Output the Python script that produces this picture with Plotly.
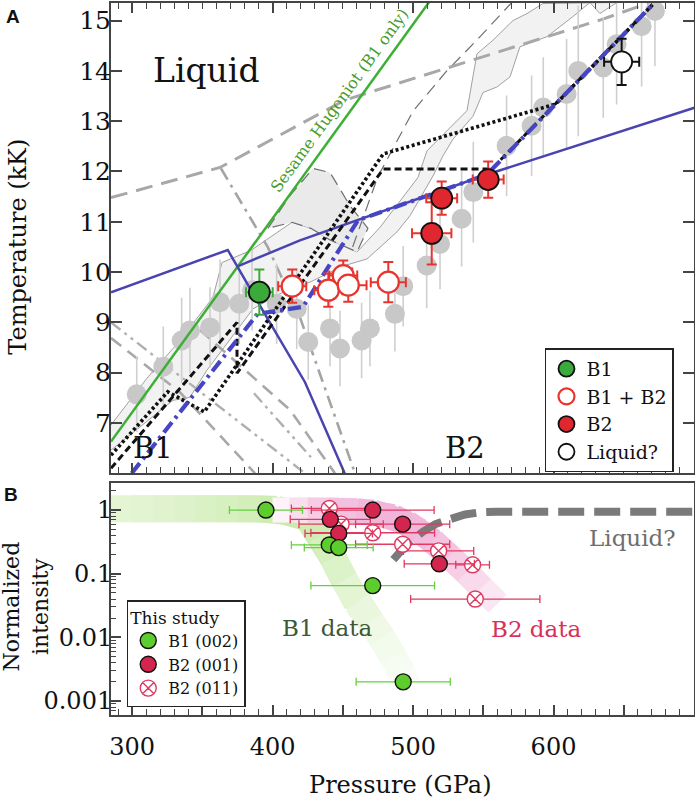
import plotly.graph_objects as go

# ================= Panel A data =================
# grey literature points (pressure GPa, temperature kK, +/- error kK)
lit_p = [303.3, 322.2, 335.3, 341.2, 355.5, 362.6, 376.3, 385.4, 402.9, 417.2,
         425.4, 440.9, 448.0, 463.4, 469.3, 487.1, 493.0, 509.7, 519.2, 534.6,
         542.9, 566.6, 584.4, 592.7, 609.3, 617.6, 635.4, 644.9, 662.7, 672.2]
lit_t = [7.57, 8.12, 8.64, 8.84, 8.90, 9.40, 9.37, 9.64, 9.37, 9.27,
         8.61, 8.88, 8.48, 8.64, 8.88, 9.17, 9.72, 10.13, 10.56, 11.06,
         11.59, 12.51, 12.91, 13.27, 13.54, 14.00, 14.07, 14.53, 14.89, 15.19]
lit_err = [0.75, 0.8, 0.85, 0.85, 0.8, 0.85, 0.8, 0.8, 0.8, 0.8,
           0.75, 0.75, 0.75, 0.75, 0.75, 0.75, 0.8, 0.85, 0.9, 0.95,
           1.0, 1.0, 1.0, 1.0, 1.1, 1.3, 1.0, 1.2, 1.2, 1.1]

# this study
b1_p, b1_t, b1_dp, b1_dt = [390.6], [9.60], [9.5], [0.45]
mix_p = [414.0, 439.7, 450.3, 453.9, 482.4]
mix_t = [9.72, 9.64, 9.93, 9.74, 9.80]
mix_dp = [10, 10, 10, 13, 12.5]
mix_dt = [0.33, 0.33, 0.30, 0.33, 0.40]
b2_p = [513.3, 520.4, 553.5]
b2_t = [10.77, 11.47, 11.84]
b2_dp = [14, 11, 11]
b2_dt = [0.62, 0.33, 0.36]
liq_p, liq_t, liq_dp, liq_dt = [648.5], [14.18], [12.5], [0.46]

# model curves
sesame_p = [285, 512]
sesame_t = [6.63, 15.39]
b1_bound_p = [285, 368.1, 393.0, 423.1, 451.5]
b1_bound_t = [9.60, 10.44, 9.24, 7.81, 5.99]
b2_melt_p = [375.5, 419.5, 552.6, 700.6]
b2_melt_t = [10.12, 10.63, 11.94, 13.27]
hug_p = [299.7, 389.4, 421.7, 460.8, 552.6, 671.0]
hug_t = [6.0, 9.17, 9.31, 11.03, 11.94, 15.33]
dot_p = [285, 325.4, 351.4, 478.8, 601.5, 671.0]
dot_t = [6.36, 7.62, 7.22, 12.35, 13.34, 15.33]
dash_p = [285, 374.7, 374.7, 478.8, 556.0, 671.0]
dash_t = [6.10, 9.0, 7.99, 12.05, 12.05, 15.33]

# grey literature curves
gdash_p = [285, 362.6, 451.5, 635.2, 668.6]
gdash_t = [11.48, 12.08, 13.42, 15.03, 15.36]
gdd_p = [363.3, 396.7, 419.5, 458.7]
gdd_t = [12.06, 10.49, 9.10, 6.0]
ga_p, ga_t = [285, 423.1], [9.0, 6.0]
gb_p, gb_t = [285, 334.1, 387.5], [8.69, 7.61, 6.0]
gc_p, gc_t = [348.3, 412.4, 444.4], [8.85, 7.26, 6.0]
gd_p, gd_t = [386.8, 427.3], [7.59, 6.32]
thin_p = [457, 475, 500, 524, 545, 570]
thin_t = [10.5, 11.9, 13.2, 14.0, 14.6, 15.35]

# grey shaded band (upper-left edge, then lower-right edge)
band_up_p = [285.0, 310.6, 334.1, 357.6, 364.0, 384.6, 413.8, 427.3, 440.9, 460.1,
             476.5, 503.5, 509.9, 524.1, 538.4, 545.5, 556.9, 571.1, 581.1, 592.5]
band_up_t = [6.96, 7.89, 8.64, 9.50, 10.19, 10.43, 10.99, 10.87, 10.64, 10.40,
             10.89, 11.88, 12.41, 12.81, 13.21, 14.34, 14.61, 15.00, 15.14, 15.34]
band_lo_p = [645.1, 633.0, 625.9, 613.8, 595.3, 576.1, 569.0, 559.7, 549.8, 542.7,
             528.4, 521.3, 514.2, 497.8, 488.6, 467.2, 450.1, 426.6, 405.3, 386.1,
             371.8, 353.3, 341.2, 329.1, 305.6, 285.0]
band_lo_t = [15.36, 15.14, 15.36, 15.08, 14.68, 14.48, 13.88, 13.68, 13.57, 13.10,
             12.64, 12.31, 11.91, 11.12, 10.80, 10.26, 10.12, 9.80, 9.57, 9.27,
             8.73, 8.05, 7.51, 7.45, 6.92, 6.46]
wedge_p = [396.7, 412.4, 428.8, 440.9, 455.1, 467.9, 460.1, 440.9, 427.3, 413.8, 396.7]
wedge_t = [10.87, 11.52, 12.06, 11.98, 11.32, 10.87, 10.40, 10.64, 10.87, 10.99, 10.87]

# ================= Panel B data =================
g_p = [395.3, 440.4, 447.1, 471.3, 493.0]
g_i = [1.0, 0.283, 0.257, 0.065, 0.002]
g_dp = [26, 27, 24.5, 44, 33.5]
r_p = [471.3, 441.1, 492.6, 447.1, 518.7]
r_i = [1.0, 0.715, 0.60, 0.43, 0.143]
r_dp = [43.7, 28.5, 33.5, 24, 25]
x_p = [440.4, 448.8, 471.3, 492.6, 518.2, 542.4, 544.3]
x_i = [1.06, 0.60, 0.44, 0.29, 0.228, 0.138, 0.04]
x_dp = [27, 30, 44, 33.5, 25, 12, 46]

liqc_p = [486, 495, 507, 516, 526, 537, 548, 560, 700]
liqc_i = [0.166, 0.282, 0.457, 0.603, 0.715, 0.851, 0.923, 0.944, 0.944]

gband_p = [285, 300, 315, 330, 345, 360, 375, 390, 403, 415, 425, 435, 443, 451, 460, 470, 478, 486, 492, 496]
gband_i = [1.05, 1.05, 1.05, 1.05, 1.05, 1.05, 1.05, 1.05, 1.03, 0.93, 0.76, 0.40, 0.178, 0.079, 0.035, 0.0178, 0.010, 0.005, 0.0028, 0.0018]
gband_s = [0.26, 0.28, 0.30, 0.32, 0.35, 0.38, 0.42, 0.46, 0.5, 0.5, 0.46, 0.4, 0.33, 0.26, 0.2, 0.15, 0.11, 0.08, 0.05, 0.03]
pband_p = [400, 412, 425, 440, 460, 472, 486, 496, 505, 514, 526, 538, 549, 560]
pband_i = [1.0, 1.0, 1.0, 1.0, 0.98, 0.93, 0.79, 0.63, 0.47, 0.33, 0.19, 0.105, 0.060, 0.034]
pband_s = [0.08, 0.22, 0.34, 0.42, 0.47, 0.5, 0.5, 0.48, 0.45, 0.4, 0.33, 0.25, 0.16, 0.08]

SERIF = "DejaVu Serif"
fig = go.Figure()


def line(x, y, color, width, dash="solid", xa="x", ya="y"):
    fig.add_trace(go.Scatter(x=x, y=y, mode="lines", xaxis=xa, yaxis=ya,
                             line=dict(color=color, width=width, dash=dash),
                             showlegend=False, hoverinfo="skip"))


def blend(base, s):
    return "rgb(%d,%d,%d)" % tuple(round(255 * (1 - s) + c * s) for c in base)


# ---------- Panel A ----------
fig.add_trace(go.Scatter(x=band_up_p + band_lo_p, y=band_up_t + band_lo_t, mode="lines",
                         fill="toself", fillcolor="#f2f2f2",
                         line=dict(color="#a0a0a0", width=1), showlegend=False, hoverinfo="skip"))
fig.add_trace(go.Scatter(x=wedge_p, y=wedge_t, mode="lines", fill="toself", fillcolor="#eaeaea",
                         line=dict(color="#6f6f6f", width=1.2, dash="12px,7px"),
                         showlegend=False, hoverinfo="skip"))
line(thin_p, thin_t, "#6f6f6f", 1.2, "12px,7px")
line(gdash_p, gdash_t, "#a8a8a8", 3, "17px,9px")
line(gdd_p, gdd_t, "#a4a4a4", 2.6, "13px,6px,3px,6px")
line(ga_p, ga_t, "#b0b0b0", 2.4, "12px,5px,3px,5px,3px,5px")
line(gb_p, gb_t, "#a8a8a8", 2.6, "13px,8px")
line(gc_p, gc_t, "#a8a8a8", 2.6, "13px,8px")
line(gd_p, gd_t, "#b0b0b0", 2.4, "12px,5px,3px,5px,3px,5px")

fig.add_trace(go.Scatter(x=lit_p, y=lit_t, mode="markers",
                         marker=dict(size=20, color="#c8c8c8", line=dict(width=0)),
                         error_y=dict(type="data", array=lit_err, color="#cfcfcf", thickness=1.6, width=0),
                         showlegend=False, hoverinfo="skip"))

line(sesame_p, sesame_t, "#3cb035", 2.5)
line(b1_bound_p, b1_bound_t, "#4a44b0", 2.5)
line(b2_melt_p, b2_melt_t, "#4a44b0", 2.5)
line(dash_p, dash_t, "#111111", 3, "7px,4px")
line(dot_p, dot_t, "#111111", 3.6, "3px,2.6px")
line(hug_p, hug_t, "#4646c4", 4.2, "13px,5px,3px,5px")


def pts(x, y, dx, dy, fill, edge, ecol, name, legend="legend", lw=1.8):
    fig.add_trace(go.Scatter(
        x=x, y=y, mode="markers", name=name, legend=legend,
        marker=dict(size=21, color=fill, line=dict(color=edge, width=lw)),
        error_x=dict(type="data", array=dx, color=ecol, thickness=2, width=5),
        error_y=dict(type="data", array=dy, color=ecol, thickness=2, width=5),
        hoverinfo="skip"))


pts(b1_p, b1_t, b1_dp, b1_dt, "#3aaa3a", "#111111", "#3aaa3a", "B1")
pts(mix_p, mix_t, mix_dp, mix_dt, "white", "#e8342e", "#e8342e", "B1 + B2", lw=2.2)
pts(b2_p, b2_t, b2_dp, b2_dt, "#e0262e", "#111111", "#e8342e", "B2")
pts(liq_p, liq_t, liq_dp, liq_dt, "white", "#111111", "#111111", "Liquid?")

# ---------- Panel B ----------
for i in range(len(gband_p) - 1):
    j = min(i + 3, len(gband_p))
    fig.add_trace(go.Scatter(x=gband_p[i:j], y=gband_i[i:j], mode="lines", xaxis="x2", yaxis="y2",
                             line=dict(color=blend((150, 215, 90), gband_s[i]), width=27),
                             showlegend=False, hoverinfo="skip"))
for i in range(len(pband_p) - 1):
    j = min(i + 3, len(pband_p))
    fig.add_trace(go.Scatter(x=pband_p[i:j], y=pband_i[i:j], mode="lines", xaxis="x2", yaxis="y2",
                             line=dict(color=blend((228, 105, 178), pband_s[i]), width=25),
                             showlegend=False, hoverinfo="skip"))

line(liqc_p, liqc_i, "#7a7a7a", 8, "26px,10px", "x2", "y2")


def bpts(x, y, dx, fill, edge, ecol, symbol, name, size=16):
    fig.add_trace(go.Scatter(
        x=x, y=y, mode="markers", name=name, legend="legend2", xaxis="x2", yaxis="y2",
        marker=dict(size=size, color=fill, symbol=symbol, line=dict(color=edge, width=1.4)),
        error_x=dict(type="data", array=dx, color=ecol, thickness=1.3, width=4),
        hoverinfo="skip"))


bpts(x_p, x_i, x_dp, "white", "#e03a62", "#e03a62", "circle-x", "B2 (011)")
bpts(r_p, r_i, r_dp, "#d4254e", "#111111", "#e03a62", "circle", "B2 (001)")
bpts(g_p, g_i, g_dp, "#5ccd2c", "#111111", "#66d040", "circle", "B1 (002)")

# legend order: B1 (002), B2 (001), B2 (011)
fig.data[-3].legendrank = 3
fig.data[-2].legendrank = 2
fig.data[-1].legendrank = 1

ann = []


def text(x, y, s, size, color="#111111", xref="x", yref="y", angle=0, family=SERIF):
    ann.append(dict(x=x, y=y, xref=xref, yref=yref, text=s, showarrow=False, textangle=angle,
                    font=dict(family=family, size=size, color=color),
                    xanchor="center", yanchor="middle"))


text(353, 14.0, "Liquid", 33)
text(315, 6.5, "B1", 29)
text(537, 6.5, "B2", 29)
text(447.5, 13.42, "Sesame Hugoniot (B1 only)", 16, "#4a9c2a", angle=-54)
text(439, -1.85, "B1 data", 23, "#3b5936", "x2", "y2")
text(588, -1.87, "B2 data", 23, "#d8305a", "x2", "y2")
text(656, -0.44, "Liquid?", 23, "#6e6e6e", "x2", "y2")
text(-0.161, 0.658, "Temperature (kK)", 24, xref="paper", yref="paper", angle=-90)
text(-0.145, 0.153, "Normalized<br>intensity", 22, xref="paper", yref="paper", angle=-90)
text(0.497, -0.098, "Pressure (GPa)", 24, xref="paper", yref="paper")
text(-0.168, 0.981, "<b>A</b>", 19, xref="paper", yref="paper", family="Liberation Sans")
text(-0.172, 0.310, "<b>B</b>", 19, xref="paper", yref="paper", family="Liberation Sans")

xt = [300, 350, 400, 450, 500, 550, 600, 650, 700]
xl = ["300", "", "400", "", "500", "", "600", "", "700"]
AX = "#444444"
xcommon = dict(range=[285, 700], tickmode="array", tickvals=xt, ticks="inside", ticklen=10,
               tickwidth=1.5, tickcolor=AX, showline=True, linecolor=AX, linewidth=2,
               showgrid=False, zeroline=False, automargin=False,
               minor=dict(tickmode="linear", tick0=0, dtick=10, ticks="inside", ticklen=6,
                          tickwidth=1.3, tickcolor=AX, showgrid=False))
minor_log = [m * 10 ** e for e in range(-4, 1) for m in range(2, 10)]

fig.update_layout(
    width=695, height=799, margin=dict(l=111, r=1, t=3, b=84, autoexpand=False),
    paper_bgcolor="white", plot_bgcolor="white",
    font=dict(family=SERIF, color="#111111"),
    xaxis=dict(domain=[0, 1], anchor="y", showticklabels=False, ticktext=xl, mirror="ticks", **xcommon),
    yaxis=dict(domain=[0.3395, 1], anchor="x", range=[6.0, 15.35], tickmode="array",
               tickvals=[7, 8, 9, 10, 11, 12, 13, 14, 15], ticks="inside", ticklen=11, tickwidth=1.5,
               tickcolor=AX, showline=True, linecolor=AX, linewidth=2, mirror="ticks",
               showgrid=False, zeroline=False, tickfont=dict(size=25), automargin=False,
               ticklabelstandoff=-7),
    xaxis2=dict(domain=[0, 1], anchor="y2", ticktext=xl, mirror=True, tickfont=dict(size=24),
                ticklabelstandoff=9, **xcommon),
    yaxis2=dict(domain=[0, 0.3254], anchor="x2", type="log", range=[-3.22, 0.42], tickmode="array",
                tickvals=[0.001, 0.01, 0.1, 1], ticktext=["0.001", "0.01", "0.1", "1"],
                ticks="inside", ticklen=10, tickwidth=1.5, tickcolor=AX, showline=True,
                linecolor=AX, linewidth=2, mirror=True, showgrid=False, zeroline=False,
                tickfont=dict(size=24), automargin=False, ticklabelstandoff=-8,
                minor=dict(tickmode="array", tickvals=minor_log, ticks="inside", ticklen=5,
                           tickwidth=1.2, tickcolor=AX, showgrid=False)),
    legend=dict(x=0.7444, y=0.515, xanchor="left", yanchor="top", bgcolor="white",
                bordercolor="#222222", borderwidth=1.5, font=dict(size=19, family=SERIF),
                itemwidth=30, tracegroupgap=0),
    legend2=dict(x=0.027, y=0.1615, xanchor="left", yanchor="top", bgcolor="white",
                 bordercolor="#222222", borderwidth=1.5, font=dict(size=16, family=SERIF),
                 title=dict(text="This study", font=dict(size=17, family=SERIF)),
                 itemwidth=30, tracegroupgap=0),
    annotations=ann,
)

fig.write_html("out.html", config={"displayModeBar": False},
               post_script="document.body.style.margin='0px';document.body.style.padding='0px';")
